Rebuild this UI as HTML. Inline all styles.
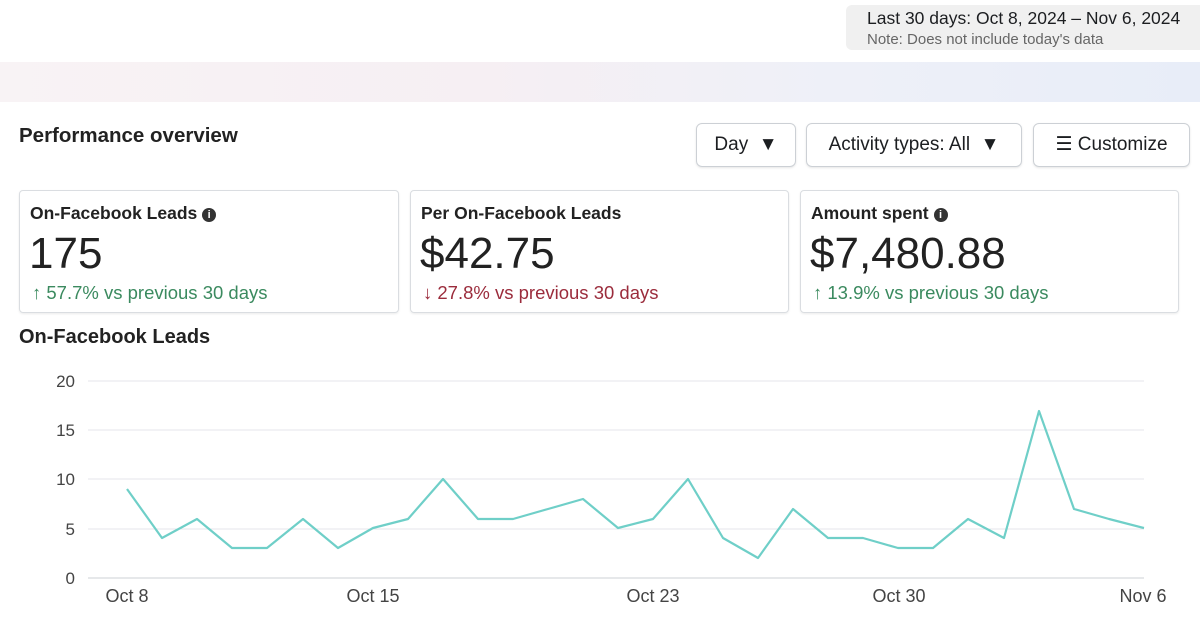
<!DOCTYPE html>
<html><head><style>
body{margin:0;width:1200px;height:621px;background:#fff;font-family:"Liberation Sans",sans-serif;color:#1c1e21;position:relative;overflow:hidden}
.a{position:absolute}
.date{left:846px;top:5px;width:360px;height:45px;background:#f0f0f0;border-radius:6px}
.band{left:0;top:62px;width:1200px;height:40px;background:linear-gradient(90deg,#f8f3f5,#f6eff3 40%,#eef0f8 70%,#e8edf8)}
.btn{top:123px;height:44px;border:1px solid #ccd0d5;border-radius:6px;box-sizing:border-box;font-size:19px;line-height:42px;text-align:center;box-shadow:0 1px 2px rgba(0,0,0,.1)}
.card{top:190px;height:123px;border:1px solid #dadde1;border-radius:4px;box-sizing:border-box;box-shadow:0 1px 2px rgba(0,0,0,.08)}
.card .t{position:absolute;left:10px;top:12px;font-size:17.5px;font-weight:bold;color:#222}
.card .v{position:absolute;left:9px;top:38px;font-size:44px;color:#222}
.card .c{position:absolute;left:12px;top:91px;font-size:18.5px}
.g{color:#3b8a5f}.r{color:#9b2c3c}
.i{display:inline-block;width:14px;height:14px;border-radius:50%;background:#333;color:#fff;font-size:11px;line-height:14px;text-align:center;vertical-align:1px;font-style:normal}
</style></head><body>
<div class="a date"><div class="a" style="left:21px;top:3px;font-size:17.5px">Last 30 days: Oct 8, 2024 – Nov 6, 2024</div><div class="a" style="left:21px;top:26px;font-size:15px;color:#666">Note: Does not include today's data</div></div>
<div class="a band"></div>
<div class="a" style="left:19px;top:124px;font-size:20.5px;font-weight:bold;color:#222">Performance overview</div>
<div class="a btn" style="left:696px;width:100px">Day &nbsp;&#9660;</div>
<div class="a btn" style="left:806px;width:216px">Activity types: All &nbsp;&#9660;</div>
<div class="a btn" style="left:1033px;width:157px">&#9776; Customize</div>
<div class="a card" style="left:19px;width:380px"><div class="t">On-Facebook Leads <i class="i">i</i></div><div class="v">175</div><div class="c g">↑ 57.7% vs previous 30 days</div></div>
<div class="a card" style="left:410px;width:379px"><div class="t">Per On-Facebook Leads</div><div class="v">$42.75</div><div class="c r">↓ 27.8% vs previous 30 days</div></div>
<div class="a card" style="left:800px;width:379px"><div class="t">Amount spent <i class="i">i</i></div><div class="v">$7,480.88</div><div class="c g">↑ 13.9% vs previous 30 days</div></div>
<div class="a" style="left:19px;top:326px;font-size:20px;font-weight:bold;color:#222">On-Facebook Leads</div>
<svg class="a" style="left:0;top:0" width="1200" height="621">
<g stroke="#e4e6eb" stroke-width="1">
<line x1="88" x2="1144" y1="381" y2="381"/><line x1="88" x2="1144" y1="430" y2="430"/><line x1="88" x2="1144" y1="479" y2="479"/><line x1="88" x2="1144" y1="529" y2="529"/></g>
<line x1="88" x2="1144" y1="578" y2="578" stroke="#ccd0d5"/>
<g font-size="17" fill="#444" text-anchor="end" font-family="Liberation Sans">
<text x="75" y="387">20</text><text x="75" y="436">15</text><text x="75" y="485">10</text><text x="75" y="535">5</text><text x="75" y="584">0</text></g>
<g font-size="18" fill="#444" text-anchor="middle" font-family="Liberation Sans">
<text x="127" y="602">Oct 8</text><text x="373" y="602">Oct 15</text><text x="653" y="602">Oct 23</text><text x="899" y="602">Oct 30</text><text x="1143" y="602">Nov 6</text></g>
<polyline fill="none" stroke="#6fcfc8" stroke-width="2.2" stroke-linejoin="round" points="127,489 162,538 197,519 232,548 267,548 303,519 338,548 373,528 408,519 443,479 478,519 513,519 548,509 583,499 618,528 653,519 688,479 723,538 758,558 793,509 828,538 863,538 898,548 933,548 968,519 1004,538 1039,411 1074,509 1109,519 1144,528"/>
</svg>
</body></html>
